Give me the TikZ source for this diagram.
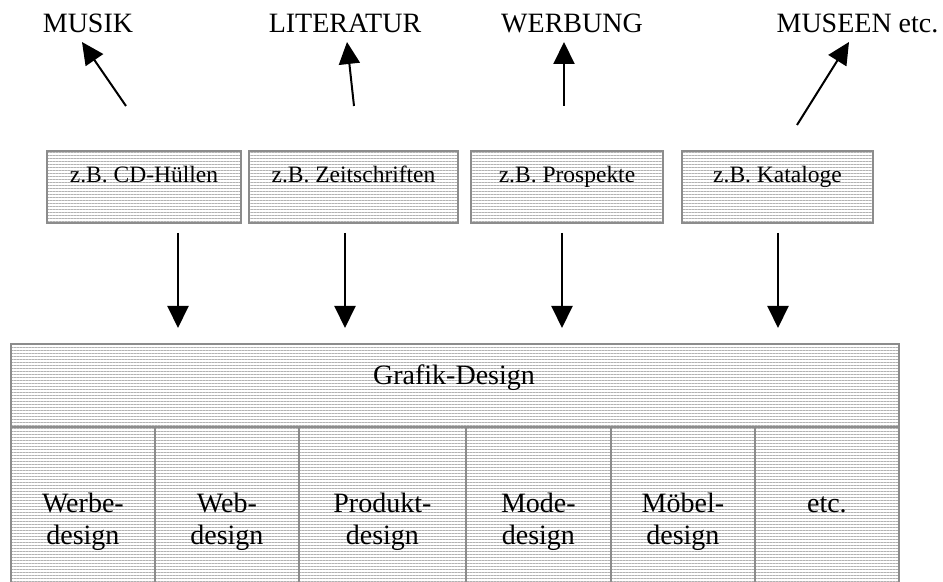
\documentclass[tikz,border=0pt]{standalone}
\usepackage{fontspec}
\setmainfont{Liberation Serif}
\usetikzlibrary{patterns.meta,arrows.meta}

\tikzset{
  hatch/.style={pattern={Lines[angle=0,distance=1.5pt,line width=0.5pt]}, pattern color=black!30},
  frame/.style={draw=black!45, line width=0.9pt},
  arr/.style={-{Triangle[length=11pt,width=10.5pt]}, line width=1pt},
  biglabel/.style={font=\fontsize{14}{16}\selectfont, inner sep=0pt},
  boxtext/.style={font=\fontsize{11.75}{14}\selectfont},
  examplebox/.style={frame, hatch, boxtext, inner sep=0pt, minimum height=36pt,
                     text height=8pt, text depth=12pt},
  cell/.style={frame, hatch, inner sep=0pt, anchor=north west},
}

\begin{document}
\begin{tikzpicture}[x=0.5pt,y=-0.5pt]
  \useasboundingbox (0,0) rectangle (943,582);
  \clip (0,0) rectangle (943,582);

  % fields of application
  \node[biglabel, anchor=base] (musik)  at (88,33)    {MUSIK};
  \node[biglabel, anchor=base] (lit)    at (345,33)   {LITERATUR};
  \node[biglabel, anchor=base] (werb)   at (572,33)   {WERBUNG};
  \node[biglabel, anchor=base] (museen) at (857.5,33) {MUSEEN etc.};

  % example products
  \node[examplebox, minimum width=97pt]    (b1) at (144,187)   {z.B. CD-Hüllen};
  \node[examplebox, minimum width=104.5pt] (b2) at (353.5,187) {z.B. Zeitschriften};
  \node[examplebox, minimum width=96pt]    (b3) at (567,187)   {z.B. Prospekte};
  \node[examplebox, minimum width=95.5pt]  (b4) at (777.5,187) {z.B. Kataloge};

  % upward arrows
  \coordinate (u1a) at (126,106); \coordinate (u1b) at (82,42);
  \coordinate (u2a) at (354,106); \coordinate (u2b) at (347,42);
  \coordinate (u3a) at (564,106); \coordinate (u3b) at (564,42);
  \coordinate (u4a) at (797,125); \coordinate (u4b) at (849,42);
  \draw[arr] (u1a) -- (u1b);
  \draw[arr] (u2a) -- (u2b);
  \draw[arr] (u3a) -- (u3b);
  \draw[arr] (u4a) -- (u4b);

  % downward arrows
  \coordinate (d1a) at (178,233); \coordinate (d1b) at (178,328);
  \coordinate (d2a) at (345,233); \coordinate (d2b) at (345,328);
  \coordinate (d3a) at (562,233); \coordinate (d3b) at (562,328);
  \coordinate (d4a) at (778,233); \coordinate (d4b) at (778,328);
  \draw[arr] (d1a) -- (d1b);
  \draw[arr] (d2a) -- (d2b);
  \draw[arr] (d3a) -- (d3b);
  \draw[arr] (d4a) -- (d4b);

  % design table
  \node[cell, minimum width=444pt, minimum height=41.5pt] (head) at (10,343) {};
  \node[biglabel, anchor=base] (headtext) at (454,385) {Grafik-Design};
  \node[cell, minimum width=72pt,   minimum height=110pt] (c1) at (10,426)  {};
  \node[cell, minimum width=72pt,   minimum height=110pt] (c2) at (154,426) {};
  \node[cell, minimum width=83.5pt, minimum height=110pt] (c3) at (298,426) {};
  \node[cell, minimum width=72.5pt, minimum height=110pt] (c4) at (465,426) {};
  \node[cell, minimum width=72pt,   minimum height=110pt] (c5) at (610,426) {};
  \node[cell, minimum width=72pt,   minimum height=110pt] (c6) at (754,426) {};

  % two-line labels: the base anchor sits on the second line
  \node[biglabel, align=center, anchor=base] (t1) at (c1.north |- 0,545) {Werbe-\\design};
  \node[biglabel, align=center, anchor=base] (t2) at (c2.north |- 0,545) {Web-\\design};
  \node[biglabel, align=center, anchor=base] (t3) at (c3.north |- 0,545) {Produkt-\\design};
  \node[biglabel, align=center, anchor=base] (t4) at (c4.north |- 0,545) {Mode-\\design};
  \node[biglabel, align=center, anchor=base] (t5) at (c5.north |- 0,545) {Möbel-\\design};
  \node[biglabel, anchor=base] (t6) at (c6.north |- 0,513) {etc.};
\end{tikzpicture}
\end{document}
